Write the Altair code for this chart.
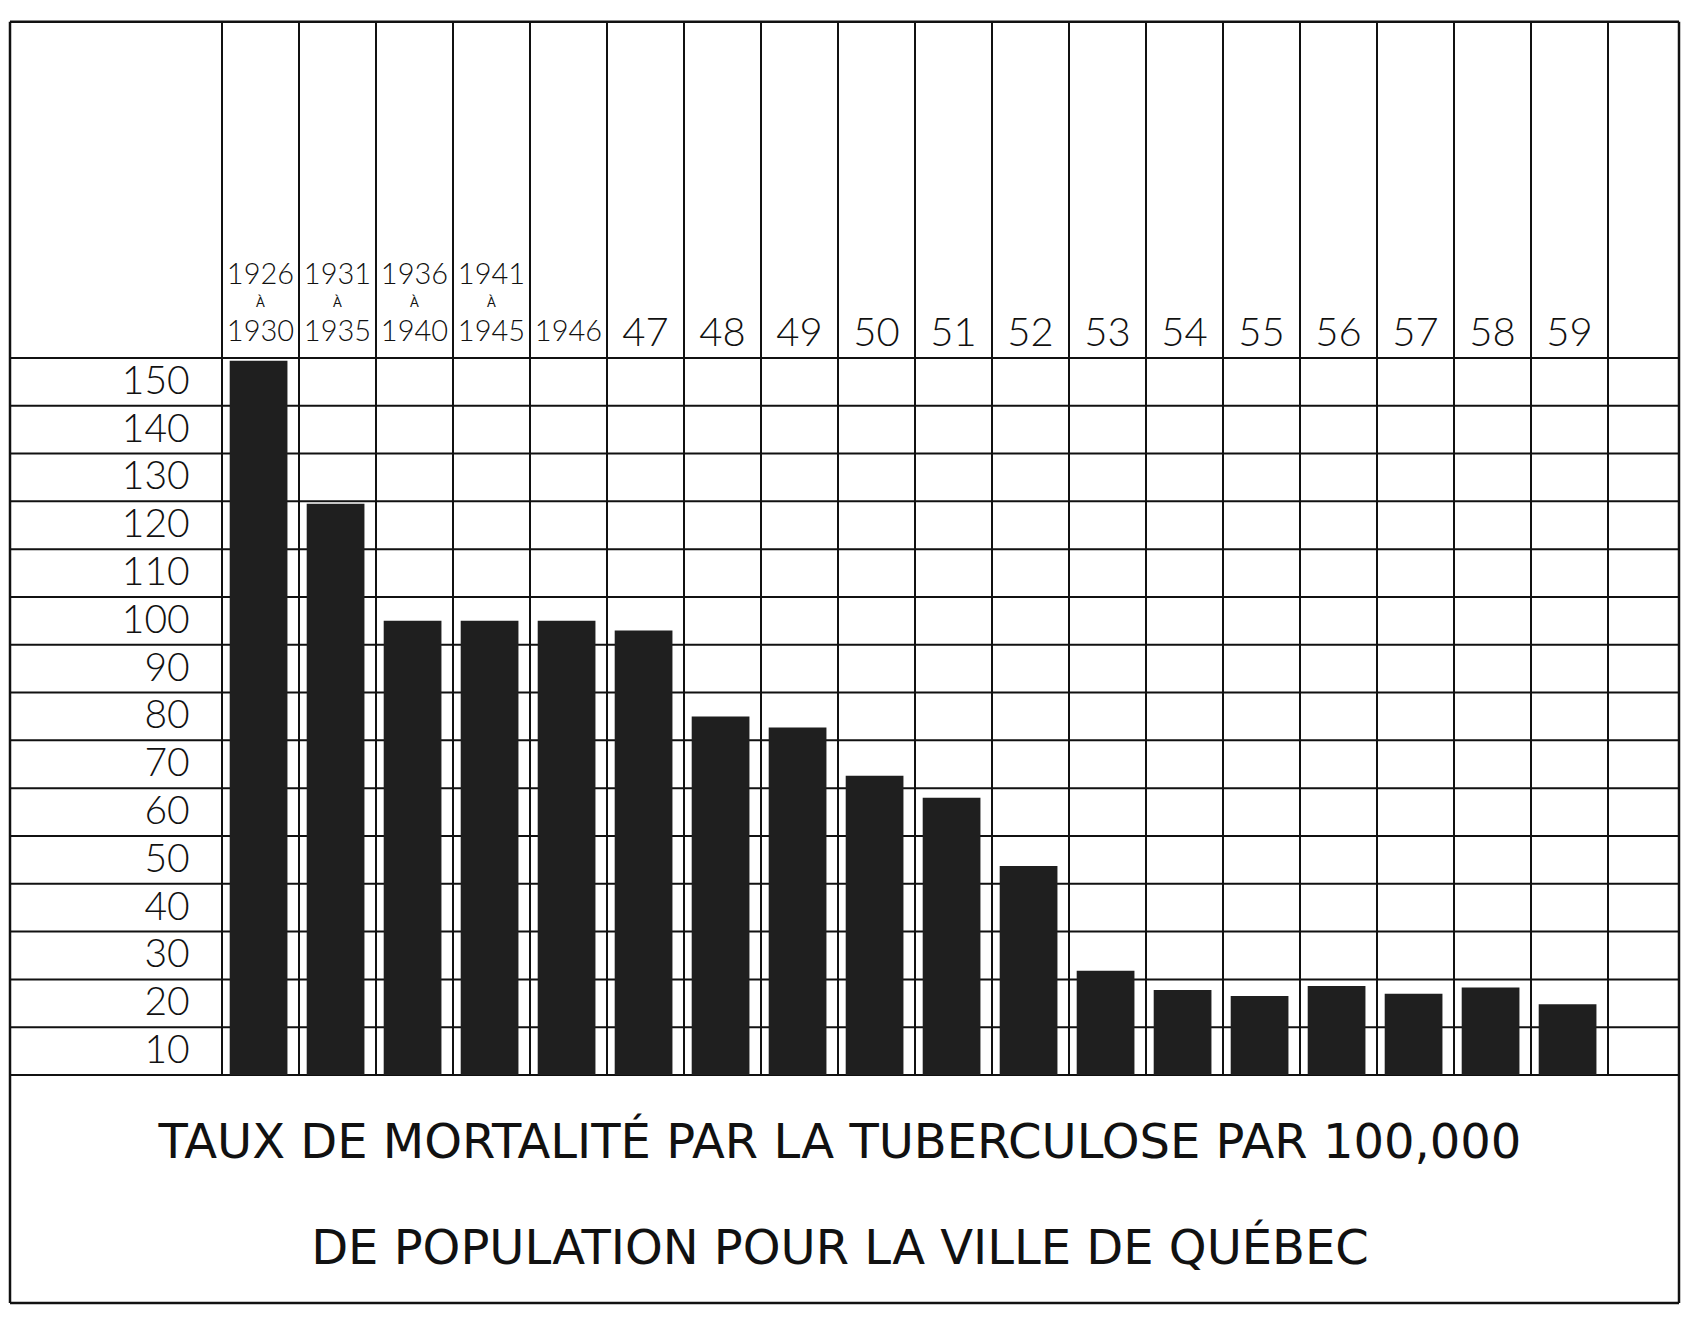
import altair as alt
import pandas as pd

# ---------------- data ----------------
periodes = ["1926-1930", "1931-1935", "1936-1940", "1941-1945", "1946", "1947",
            "1948", "1949", "1950", "1951", "1952", "1953", "1954", "1955",
            "1956", "1957", "1958", "1959"]
annees_haut = ["1926", "1931", "1936", "1941"]
annees_bas = ["1930", "1935", "1940", "1945", "1946", "47", "48", "49", "50",
              "51", "52", "53", "54", "55", "56", "57", "58", "59"]
taux = [149.4, 119.5, 95.0, 95.0, 95.0, 93.0, 75.0, 72.7, 62.6, 58.0, 43.7,
        21.8, 17.8, 16.5, 18.6, 17.0, 18.3, 14.8]
graduations = [150, 140, 130, 120, 110, 100, 90, 80, 70, 60, 50, 40, 30, 20, 10]
titre = ["TAUX DE MORTALITÉ PAR LA TUBERCULOSE PAR 100,000",
         "DE POPULATION POUR LA VILLE DE QUÉBEC"]

# ---------------- layout (column units / rate units) ----------------
W, H = 1673, 1300
COL = 77.0
C0 = 214.0                      # pixel of the first column edge inside the view
X_MIN, X_MAX = -C0 / COL, (W - C0) / COL
Y_MIN, Y_MAX = -48.74, 223.2
LEFT, RIGHT = (2 - C0) / COL, (W - 2 - C0) / COL
TOP, BOTTOM = 220.3, -47.7
INK = "#111111"

xs = alt.Scale(domain=[X_MIN, X_MAX], nice=False, zero=False)
ys = alt.Scale(domain=[Y_MIN, Y_MAX], nice=False, zero=False)

n = len(taux)
bars_df = pd.DataFrame({
    "periode": periodes,
    "x0": [i + 0.10 for i in range(n)],
    "x1": [i + 0.85 for i in range(n)],
    "taux": taux,
    "zero": [0] * n,
})

hgrid_df = pd.DataFrame({"v": [0] + graduations, "a": LEFT, "b": RIGHT})
vgrid_df = pd.DataFrame({"k": list(range(n + 1)), "lo": 0, "hi": TOP})
vborder_df = pd.DataFrame({"k": [LEFT, RIGHT], "lo": BOTTOM, "hi": TOP})
hborder_df = pd.DataFrame({"v": [TOP, BOTTOM], "a": LEFT, "b": RIGHT})

ylab_df = pd.DataFrame({"lab": [str(g) for g in graduations],
                        "yy": [g - 5 for g in graduations],
                        "xx": -0.42})
top_df = pd.DataFrame({"lab": annees_haut,
                       "xx": [i + 0.5 for i in range(len(annees_haut))]})
a_df = pd.DataFrame({"lab": ["À"] * len(annees_haut),
                     "xx": [i + 0.5 for i in range(len(annees_haut))]})
bot_df = pd.DataFrame({"lab": annees_bas,
                       "xx": [i + 0.5 for i in range(n)],
                       "big": [len(s) <= 2 for s in annees_bas]})
titre_df = pd.DataFrame({"lab": titre, "yy": [-14.4, -36.6], "xx": (840 - 8 - C0) / COL})

def X(f):
    return alt.X(f, type="quantitative", scale=xs, axis=None)

def Y(f):
    return alt.Y(f, type="quantitative", scale=ys, axis=None)

hgrid = alt.Chart(hgrid_df).mark_rule(color=INK, strokeWidth=2).encode(
    x=X("a"), x2="b", y=Y("v"))
vgrid = alt.Chart(vgrid_df).mark_rule(color=INK, strokeWidth=2).encode(
    x=X("k"), y=Y("lo"), y2="hi")
vborder = alt.Chart(vborder_df).mark_rule(color=INK, strokeWidth=2.5).encode(
    x=X("k"), y=Y("lo"), y2="hi")
hborder = alt.Chart(hborder_df).mark_rule(color=INK, strokeWidth=2.5).encode(
    x=X("a"), x2="b", y=Y("v"))

bars = alt.Chart(bars_df).mark_rect(color="#1f1f1f").encode(
    x=X("x0"), x2="x1", y=Y("taux"), y2="zero",
    tooltip=["periode", "taux"])

ylabels = alt.Chart(ylab_df).mark_text(
    align="right", baseline="middle", font="Lato", fontWeight=300,
    fontSize=39, color=INK).encode(x=X("xx"), y=Y("yy"), text="lab")

top_years = alt.Chart(top_df).mark_text(
    align="center", baseline="middle", font="Lato", fontWeight=300,
    fontSize=29, color=INK).encode(x=X("xx"), y=alt.Y(datum=167.4, scale=ys, axis=None), text="lab")

a_marks = alt.Chart(a_df).mark_text(
    align="center", baseline="middle", font="Lato", fontWeight=400,
    fontSize=13, color=INK).encode(x=X("xx"), y=alt.Y(datum=161.5, scale=ys, axis=None), text="lab")

bot_small = alt.Chart(bot_df).transform_filter("!datum.big").mark_text(
    align="center", baseline="middle", font="Lato", fontWeight=300,
    fontSize=29, color=INK).encode(x=X("xx"), y=alt.Y(datum=155.4, scale=ys, axis=None), text="lab")
bot_big = alt.Chart(bot_df).transform_filter("datum.big").mark_text(
    align="center", baseline="middle", font="Lato", fontWeight=300,
    fontSize=40, color=INK).encode(x=X("xx"), y=alt.Y(datum=155.1, scale=ys, axis=None), text="lab")

titres = alt.Chart(titre_df).mark_text(
    align="center", baseline="middle", font="DejaVu Sans", fontWeight="normal",
    fontSize=48, color=INK).encode(x=X("xx"), y=Y("yy"), text="lab")

chart = alt.layer(
    hgrid, vgrid, bars, ylabels, top_years, a_marks, bot_small, bot_big,
    titres, vborder, hborder
).properties(width=W, height=H, padding=0, background="white").configure_view(stroke=None)

chart.save("out.html", embed_options={"renderer": "svg", "actions": False})
